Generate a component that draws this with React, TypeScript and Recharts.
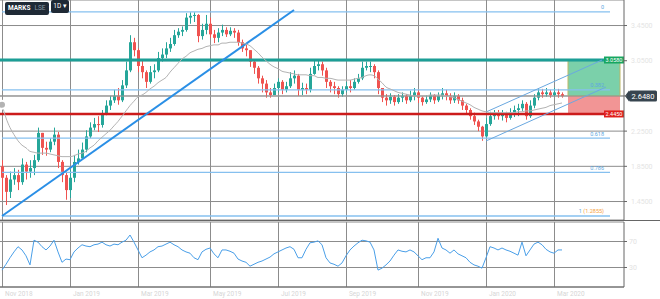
import React from "react";
import {
  ComposedChart,
  Bar,
  Line,
  XAxis,
  YAxis,
  CartesianGrid,
  ReferenceLine,
  ReferenceArea,
} from "recharts";

// daily candles (open = previous close)
const closes = [
  1.72, 1.56, 1.7, 1.75, 1.67, 1.87, 1.79, 1.83, 1.92, 2.23,
  2.06, 2.04, 2.13, 2.21, 1.9, 1.75, 1.58, 1.72, 1.9, 1.94,
  2.04, 2.19, 2.29, 2.33, 2.32, 2.44, 2.54, 2.6, 2.65, 2.6,
  2.77, 2.94, 3.26, 3.17, 2.99, 2.92, 2.81, 2.92, 2.94, 3.08,
  3.12, 3.19, 3.24, 3.34, 3.38, 3.4, 3.54, 3.56, 3.57, 3.33,
  3.4, 3.47, 3.35, 3.31, 3.37, 3.4, 3.35, 3.39, 3.37, 3.26,
  3.19, 3.17, 3.04, 2.97, 2.85, 2.79, 2.69, 2.66, 2.74, 2.81,
  2.72, 2.76, 2.85, 2.88, 2.72, 2.74, 2.72, 2.9, 2.99, 3.01,
  2.94, 2.81, 2.76, 2.74, 2.67, 2.72, 2.76, 2.74, 2.81, 2.85,
  2.97, 2.99, 2.99, 2.92, 2.74, 2.63, 2.6, 2.64, 2.58, 2.63,
  2.65, 2.6, 2.65, 2.69, 2.63, 2.58, 2.61, 2.66, 2.6, 2.65,
  2.68, 2.65, 2.6, 2.65, 2.6, 2.54, 2.49, 2.42, 2.36, 2.3,
  2.19, 2.33, 2.42, 2.44, 2.42, 2.44, 2.4, 2.46, 2.49, 2.51,
  2.56, 2.42, 2.54, 2.63, 2.69, 2.67, 2.69, 2.66, 2.69, 2.67,
  2.648,
];
const firstOpen = 1.85;

const highs = [
  1.92, 1.75, 1.79, 1.83, 1.81, 1.94, 1.9, 1.92, 1.98, 2.29,
  2.21, 2.13, 2.17, 2.29, 2.24, 1.92, 1.79, 1.81, 1.98, 2.04,
  2.12, 2.26, 2.35, 2.4, 2.42, 2.49, 2.6, 2.65, 2.72, 2.74,
  2.83, 3.04, 3.34, 3.31, 3.19, 3.06, 2.94, 2.99, 3.01, 3.15,
  3.19, 3.26, 3.31, 3.4, 3.42, 3.44, 3.59, 3.6, 3.6, 3.58,
  3.47, 3.57, 3.54, 3.4, 3.42, 3.46, 3.43, 3.43, 3.42, 3.4,
  3.29, 3.23, 3.17, 3.06, 2.99, 2.88, 2.83, 2.74, 2.79, 2.85,
  2.83, 2.81, 2.92, 2.94, 2.9, 2.8, 2.79, 2.97, 3.06, 3.06,
  3.04, 2.97, 2.83, 2.81, 2.76, 2.76, 2.81, 2.83, 2.85, 2.9,
  3.04, 3.04, 3.04, 3.01, 2.94, 2.74, 2.67, 2.68, 2.66, 2.67,
  2.69, 2.67, 2.71, 2.74, 2.72, 2.65, 2.66, 2.69, 2.67, 2.69,
  2.74, 2.72, 2.68, 2.69, 2.67, 2.63, 2.56, 2.51, 2.46, 2.38,
  2.31, 2.4, 2.47, 2.49, 2.49, 2.49, 2.47, 2.51, 2.54, 2.56,
  2.6, 2.58, 2.6, 2.67, 2.74, 2.73, 2.74, 2.72, 2.74, 2.73,
  2.69,
];

const lows = [
  1.47, 1.41, 1.49, 1.64, 1.58, 1.64, 1.7, 1.72, 1.75, 1.9,
  1.98, 1.97, 2.01, 2.09, 1.83, 1.67, 1.47, 1.49, 1.67, 1.87,
  1.94, 2.01, 2.17, 2.26, 2.24, 2.29, 2.43, 2.49, 2.57, 2.55,
  2.58, 2.74, 2.92, 3.1, 2.92, 2.85, 2.74, 2.79, 2.85, 2.92,
  3.04, 3.08, 3.15, 3.22, 3.31, 3.33, 3.38, 3.47, 3.49, 3.26,
  3.29, 3.35, 3.31, 3.25, 3.26, 3.33, 3.32, 3.33, 3.31, 3.22,
  3.15, 3.1, 2.98, 2.9, 2.79, 2.69, 2.63, 2.63, 2.66, 2.69,
  2.67, 2.69, 2.74, 2.79, 2.65, 2.66, 2.67, 2.69, 2.89, 2.94,
  2.88, 2.74, 2.69, 2.67, 2.63, 2.64, 2.69, 2.69, 2.72, 2.79,
  2.83, 2.94, 2.92, 2.85, 2.67, 2.58, 2.54, 2.56, 2.54, 2.56,
  2.58, 2.56, 2.58, 2.6, 2.57, 2.54, 2.56, 2.58, 2.56, 2.58,
  2.61, 2.6, 2.56, 2.57, 2.56, 2.49, 2.44, 2.38, 2.32, 2.25,
  2.14, 2.17, 2.31, 2.38, 2.38, 2.37, 2.35, 2.38, 2.41, 2.42,
  2.48, 2.38, 2.4, 2.51, 2.6, 2.63, 2.64, 2.63, 2.64, 2.63,
  2.63,
];

const movingAvg = [
  2.55, 2.4, 2.29, 2.21, 2.14, 2.09, 2.06, 2.02, 2.01, 2.0,
  2.0, 2.0, 1.99, 1.98, 1.97, 1.96, 1.96, 1.96, 1.97, 1.99,
  2.0, 2.02, 2.06, 2.09, 2.14, 2.18, 2.22, 2.26, 2.31, 2.36,
  2.42, 2.48, 2.54, 2.59, 2.64, 2.66, 2.69, 2.73, 2.76, 2.8,
  2.83, 2.86, 2.92, 2.97, 3.02, 3.07, 3.1, 3.14, 3.16, 3.18,
  3.19, 3.21, 3.22, 3.23, 3.23, 3.25, 3.25, 3.26, 3.26, 3.26,
  3.25, 3.24, 3.22, 3.18, 3.14, 3.09, 3.05, 3.01, 2.98, 2.96,
  2.93, 2.92, 2.91, 2.9, 2.89, 2.89, 2.89, 2.88, 2.88, 2.86,
  2.86, 2.85, 2.85, 2.84, 2.83, 2.83, 2.83, 2.83, 2.84, 2.85,
  2.86, 2.88, 2.89, 2.88, 2.84, 2.8, 2.75, 2.73, 2.71, 2.69,
  2.68, 2.67, 2.66, 2.65, 2.65, 2.65, 2.65, 2.66, 2.66, 2.66,
  2.66, 2.65, 2.64, 2.63, 2.61, 2.59, 2.57, 2.55, 2.52, 2.5,
  2.48, 2.47, 2.46, 2.46, 2.46, 2.46, 2.46, 2.46, 2.46, 2.47,
  2.47, 2.48, 2.48, 2.49, 2.5, 2.51, 2.52, 2.54, 2.55, 2.56,
  2.57,
];

const rsi = [
  26, 35, 45, 54, 62, 57, 48, 34, 72, 69,
  62, 57, 63, 72, 54, 38, 43, 42, 54, 60,
  65, 63, 62, 65, 66, 69, 65, 63, 66, 65,
  69, 72, 80, 69, 57, 45, 49, 54, 57, 62,
  63, 66, 69, 65, 62, 57, 54, 52, 45, 42,
  54, 58, 60, 51, 45, 57, 57, 55, 52, 43,
  40, 38, 32, 35, 38, 40, 43, 46, 51, 54,
  57, 60, 62, 58, 45, 45, 58, 68, 69, 71,
  65, 45, 37, 35, 32, 37, 48, 57, 63, 68,
  72, 71, 69, 57, 26, 29, 34, 40, 49, 57,
  55, 54, 57, 54, 48, 42, 45, 45, 54, 75,
  60, 57, 52, 57, 51, 48, 45, 38, 34, 32,
  29, 45, 62, 60, 57, 60, 57, 55, 52, 49,
  69, 48, 57, 66, 69, 65, 58, 54, 52, 57,
  57,
];

const priceTicks = [1.25, 1.45, 1.65, 1.85, 2.05, 2.25, 2.45, 2.65, 2.85, 3.05, 3.25, 3.45];
const xTicks = [0, 17, 34, 52, 69, 86, 104, 121, 138];
const xLabels = ["Nov 2018", "Jan 2019", "Mar 2019", "May 2019", "Jul 2019", "Sep 2019", "Nov 2019", "Jan 2020", "Mar 2020"];

const priceDomain = [1.24, 3.74];
const rsiDomain = [0, 100];

// drawings
const lastPrice = 2.648;
const takeProfit = 3.058;
const stopLoss = 2.445;
const fibHigh = 3.604;
const fibLow = 1.2855;
const fibLevels = [0, 0.236, 0.382, 0.5, 0.618, 0.786, 1];
const trendStart = { i: 0, p: 1.285 };
const trendEnd = { i: 73, p: 3.626 };
const channelUpper = [{ i: 121, p: 2.467 }, { i: 150, p: 3.058 }];
const channelLower = [{ i: 121, p: 2.138 }, { i: 151, p: 2.751 }];

const SLOTS = 156;
const rows = Array.from({ length: SLOTS }, (_, i) => {
  const onTick = xTicks.includes(i);
  const base: any = {
    i,
    // full-height ranges at the date ticks, drawn as the vertical grid
    gridP: onTick ? priceDomain : null,
    gridR: onTick ? rsiDomain : null,
  };
  if (i < closes.length) {
    base.o = i === 0 ? firstOpen : closes[i - 1];
    base.c = closes[i];
    base.h = highs[i];
    base.l = lows[i];
    base.ma = movingAvg[i];
    base.rsi = rsi[i];
  }
  return base;
});

const UP = "#26a69a";
const DOWN = "#ef5350";
const GRID = "#8c8c8c";
const FONT = "Roboto, sans-serif";

function Candle(props: any) {
  const { x, y, width, height, payload } = props;
  if (payload == null || payload.c == null || height == null) return null;
  const hi = Math.max(payload.h, payload.o, payload.c);
  const lo = Math.min(payload.l, payload.o, payload.c);
  const top = Math.min(y, y + height);
  const h = Math.abs(height);
  const ppu = h / (hi - lo || 1);
  const bTop = top + (hi - Math.max(payload.o, payload.c)) * ppu;
  const bBot = top + (hi - Math.min(payload.o, payload.c)) * ppu;
  const col = payload.c >= payload.o ? UP : DOWN;
  const cx = x + width / 2;
  return (
    <g>
      <line x1={cx} x2={cx} y1={top} y2={top + h} stroke={col} strokeWidth={1} />
      <rect x={x} y={bTop} width={width} height={Math.max(1, bBot - bTop)} fill={col} />
    </g>
  );
}

function GridBar(props: any) {
  const { x, y, width, height } = props;
  if (height == null || !Number.isFinite(x)) return null;
  const cx = x + width / 2;
  const top = Math.min(y, y + height);
  return <line x1={cx} x2={cx} y1={top} y2={top + Math.abs(height)} stroke={GRID} strokeWidth={1} />;
}

function LastTag(props: any) {
  const vb = props.viewBox;
  if (!vb) return null;
  const x = vb.x + vb.width + 1;
  const y = vb.y;
  return (
    <g>
      <polygon points={`${x},${y} ${x + 4},${y - 5.5} ${x + 4},${y + 5.5}`} fill="#37444f" />
      <rect x={x + 4} y={y - 5.5} width={28} height={11} rx={1.5} fill="#37444f" />
      <text x={x + 18} y={y + 2.8} textAnchor="middle" fontSize={7.5} fill="#fff" fontFamily={FONT}>
        {props.text}
      </text>
    </g>
  );
}

function LevelTag(props: any) {
  const vb = props.viewBox;
  if (!vb) return null;
  const x = vb.x + vb.width - 20;
  return (
    <g>
      <rect x={x} y={vb.y - 3.5} width={20} height={7} fill={props.fill} />
      <text x={x + 10} y={vb.y + 2} textAnchor="middle" fontSize={5.5} fill="#fff" fontFamily={FONT}>
        {props.text}
      </text>
    </g>
  );
}

function FibText(props: any) {
  const vb = props.viewBox;
  if (!vb) return null;
  return (
    <text x={vb.x + vb.width - 6} y={vb.y - 2.5} textAnchor="end" fontSize={5.5} fill="#5da7e0" fontFamily={FONT}>
      {props.text}
      {props.extra ? <tspan fill="#f5a142">{props.extra}</tspan> : null}
    </text>
  );
}

function PriceTick(props: any) {
  const { x, y, payload } = props;
  // the last-price tag covers the tick next to it
  if (Math.abs(payload.value - lastPrice) < 0.05) return null;
  return (
    <text x={x + 2} y={y + 2.5} textAnchor="start" fontSize={7} fill="#e4e4e4" fontFamily={FONT}>
      {payload.value.toFixed(4)}
    </text>
  );
}

function DateTick(props: any) {
  const { x, y, payload } = props;
  const idx = xTicks.indexOf(payload.value);
  return (
    <text x={x + 3} y={y + 1} textAnchor="start" fontSize={6.5} fill="#d6d6d6" fontFamily={FONT}>
      {xLabels[idx] ?? ""}
    </text>
  );
}

export default function App() {
  const fibPrice = (f: number) => fibHigh - (fibHigh - fibLow) * f;
  return (
    <div style={{ position: "absolute", left: 0, top: 0, width: 660, height: 299, background: "#fff", fontFamily: FONT }}>
      <ComposedChart width={660} height={220} data={rows} margin={{ top: 0, right: 0, left: 0, bottom: 0 }}>
        <CartesianGrid stroke={GRID} vertical={false} />
        <XAxis dataKey="i" hide />
        <XAxis xAxisId="g" dataKey="i" hide />
        <YAxis
          orientation="right"
          width={36}
          domain={priceDomain}
          allowDataOverflow
          ticks={priceTicks}
          tick={<PriceTick />}
          axisLine={{ stroke: "#666" }}
          tickLine={{ stroke: "#666" }}
          tickSize={3}
        />
        <Bar xAxisId="g" dataKey="gridP" barSize={1} shape={<GridBar />} isAnimationActive={false} />
        <ReferenceArea x1={142} x2={154} y1={lastPrice} y2={takeProfit} fill="#4fc08d" fillOpacity={0.75} stroke="#bdb766" />
        <ReferenceArea x1={142} x2={154} y1={stopLoss} y2={lastPrice} fill="#ef7b7b" fillOpacity={0.8} />
        {fibLevels.map((f) => (
          <ReferenceLine
            key={f}
            segment={[{ x: 0, y: fibPrice(f) }, { x: 152, y: fibPrice(f) }]}
            stroke="#86c0ef"
            strokeWidth={1.3}
            label={
              f === 0.236 || f === 0.5 ? undefined : (
                <FibText text={f === 1 ? "1 " : String(f)} extra={f === 1 ? "(1.2855)" : undefined} />
              )
            }
          />
        ))}
        <ReferenceLine y={lastPrice} stroke="#9a9a9a" strokeWidth={1} label={<LastTag text="2.6480" />} />
        <ReferenceLine y={takeProfit} stroke="#1c9e96" strokeWidth={3} label={<LevelTag text="3.0580" fill="#17a660" />} />
        <ReferenceLine y={stopLoss} stroke="#cc1b1b" strokeWidth={2.5} label={<LevelTag text="2.4450" fill="#e0201b" />} />
        <ReferenceLine
          segment={[{ x: trendStart.i, y: trendStart.p }, { x: trendEnd.i, y: trendEnd.p }]}
          stroke="#2a8fe6"
          strokeWidth={2}
        />
        <ReferenceLine
          segment={[{ x: channelUpper[0].i, y: channelUpper[0].p }, { x: channelUpper[1].i, y: channelUpper[1].p }]}
          stroke="#6aa8e0"
          strokeWidth={1}
        />
        <ReferenceLine
          segment={[{ x: channelLower[0].i, y: channelLower[0].p }, { x: channelLower[1].i, y: channelLower[1].p }]}
          stroke="#6aa8e0"
          strokeWidth={1}
        />
        <Line type="monotone" dataKey="ma" stroke="#b3b3b3" strokeWidth={1} dot={false} isAnimationActive={false} />
        <Bar
          dataKey={(d: any) => (d.c == null ? null : [Math.min(d.l, d.o, d.c), Math.max(d.h, d.o, d.c)])}
          barSize={3}
          shape={<Candle />}
          isAnimationActive={false}
        />
      </ComposedChart>

      <div style={{ borderTop: "1px solid #666", height: 78 }}>
        <ComposedChart width={660} height={78} data={rows} margin={{ top: 1, right: 0, left: 0, bottom: 0 }}>
          <CartesianGrid stroke={GRID} vertical={false} />
          <XAxis
            dataKey="i"
            ticks={xTicks}
            interval={0}
            height={12}
            tick={<DateTick />}
            tickLine={false}
            axisLine={{ stroke: "#666" }}
          />
          <YAxis
            orientation="right"
            width={36}
            domain={rsiDomain}
            ticks={[30, 70]}
            tick={{ fontSize: 7, fill: "#e2e2e2", fontFamily: FONT }}
            axisLine={{ stroke: "#666" }}
            tickLine={{ stroke: "#666" }}
            tickSize={3}
          />
          <Bar dataKey="gridR" barSize={1} shape={<GridBar />} isAnimationActive={false} />
          <Line type="linear" dataKey="rsi" stroke="#4a9fe8" strokeWidth={1} dot={false} isAnimationActive={false} />
        </ComposedChart>
      </div>

      <div
        style={{
          position: "absolute",
          left: 5,
          top: 2,
          width: 44,
          height: 13,
          background: "#1f2a36",
          borderRadius: 2,
          color: "#fff",
          fontSize: 6.5,
          lineHeight: "13px",
          display: "flex",
          gap: 4,
          paddingLeft: 3,
          boxSizing: "border-box",
        }}
      >
        <span style={{ fontWeight: 700 }}>MARKS</span>
        <span style={{ color: "#8a96a3" }}>LSE</span>
        <span>▾</span>
      </div>
      <div
        style={{
          position: "absolute",
          left: 51,
          top: 0,
          width: 18,
          height: 13,
          background: "#1f2a36",
          borderRadius: 2,
          color: "#fff",
          fontSize: 6.5,
          lineHeight: "13px",
          textAlign: "center",
        }}
      >
        1D ▾
      </div>
    </div>
  );
}
